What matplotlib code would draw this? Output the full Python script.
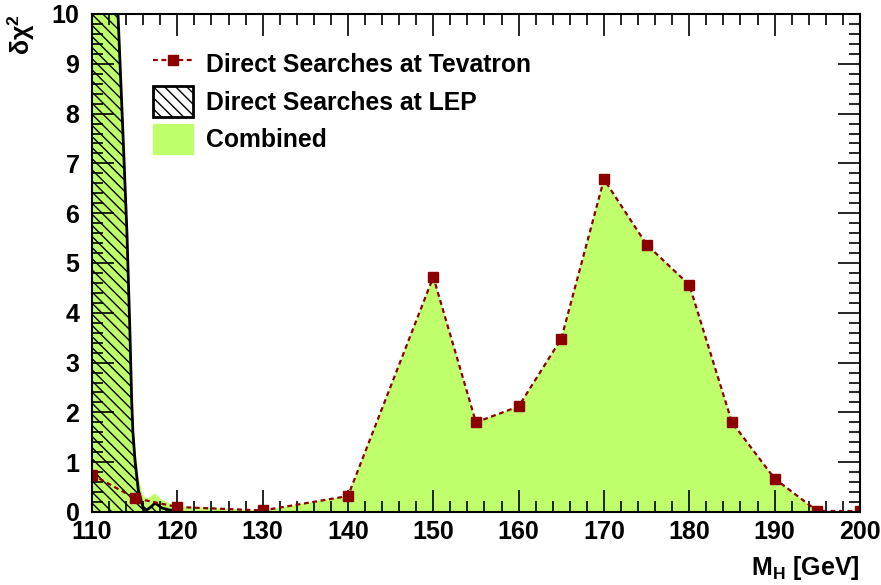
import matplotlib
matplotlib.use("Agg")
import matplotlib.pyplot as plt
from matplotlib.lines import Line2D
from matplotlib.patches import Patch
from matplotlib.ticker import MultipleLocator
import numpy as np

# Tevatron direct searches
tev_mass = [110, 115, 120, 130, 140, 150, 155, 160, 165, 170, 175, 180, 185, 190, 195, 200]
tev_chi2 = [0.75, 0.28, 0.10, 0.03, 0.32, 4.72, 1.80, 2.12, 3.48, 6.68, 5.37, 4.56, 1.80, 0.67, 0.02, 0.02]

# LEP direct searches
lep_mass = [110, 112.0, 113.05, 113.63, 114.10, 114.45, 114.65, 114.80, 115.04, 115.43, 115.97, 116.4, 116.9, 117.4, 118.2, 119.1, 120]
lep_chi2 = [40.0, 18.0, 10.0, 7.6, 5.6, 3.6, 2.25, 1.6, 1.04, 0.44, 0.10, 0.04, 0.10, 0.18, 0.08, 0.04, 0.02]

GREEN = "#c0ff6c"
RED = "#8b0000"

plt.rcParams["font.family"] = ["Liberation Sans", "DejaVu Sans"]
plt.rcParams["font.weight"] = "bold"
plt.rcParams["mathtext.fontset"] = "custom"
plt.rcParams["mathtext.rm"] = "Liberation Sans:bold"
plt.rcParams["mathtext.it"] = "Liberation Sans:bold"
plt.rcParams["mathtext.bf"] = "Liberation Sans:bold"
plt.rcParams["hatch.linewidth"] = 1.0

fig = plt.figure(figsize=(8.81, 5.85), dpi=100)
ax = fig.add_axes([0.1044, 0.1248, 0.8717, 0.8513])

# combined = LEP + Tevatron
grid = np.union1d(tev_mass, lep_mass)
lep_on_grid = np.interp(grid, lep_mass, lep_chi2, right=0.0)
tev_on_grid = np.interp(grid, tev_mass, tev_chi2)
ax.fill_between(grid, 0, lep_on_grid + tev_on_grid, color=GREEN, lw=0, zorder=1)

# LEP hatched band
ax.fill_between(lep_mass, 0, lep_chi2, facecolor="none", edgecolor="black",
                hatch="\\\\\\", lw=0, zorder=2)
ax.plot(lep_mass, lep_chi2, color="black", lw=2, zorder=3)

ax.plot(tev_mass, tev_chi2, color=RED, ls=(0, (2.2, 1.6)), lw=1.6,
        marker="s", ms=7.5, mfc=RED, mec=RED, zorder=4)

ax.set_xlim(110, 200)
ax.set_ylim(0, 10)
ax.xaxis.set_major_locator(MultipleLocator(10))
ax.xaxis.set_minor_locator(MultipleLocator(2))
ax.yaxis.set_major_locator(MultipleLocator(1))
ax.yaxis.set_minor_locator(MultipleLocator(0.2))
ax.tick_params(which="both", direction="in", top=True, right=True, labelsize=18, width=1.2)
ax.tick_params(which="major", length=16)
ax.tick_params(which="minor", length=8)
ax.tick_params(axis="x", pad=6)
ax.tick_params(axis="y", pad=9)
for s in ax.spines.values():
    s.set_linewidth(1.5)
    s.set_zorder(6)

ax.set_xlabel("M$_{H}$ [GeV]", fontsize=18, fontweight="bold", loc="right")
ax.xaxis.set_label_coords(1.0, -0.085)
ax.set_ylabel("δχ$^{2}$", fontsize=18, fontweight="bold", loc="top")
ax.yaxis.set_label_coords(-0.072, 1.0)

handles = [
    Line2D([0], [0], color=RED, ls=(0, (2.2, 1.6)), lw=1.6, marker="s", ms=7.5, mfc=RED, mec=RED),
    Patch(facecolor="white", edgecolor="black", hatch="\\\\\\", lw=2),
    Patch(facecolor=GREEN, edgecolor=GREEN),
]
labels = ["Direct Searches at Tevatron", "Direct Searches at LEP", "Combined"]
leg = ax.legend(handles, labels, loc="upper left", bbox_to_anchor=(0.066, 0.95),
                frameon=False, fontsize=17.8, handlelength=1.65, handleheight=1.5,
                handletextpad=0.5, labelspacing=0.3, borderaxespad=0)
for t in leg.get_texts():
    t.set_fontweight("bold")

fig.savefig("out.png", dpi=100)
